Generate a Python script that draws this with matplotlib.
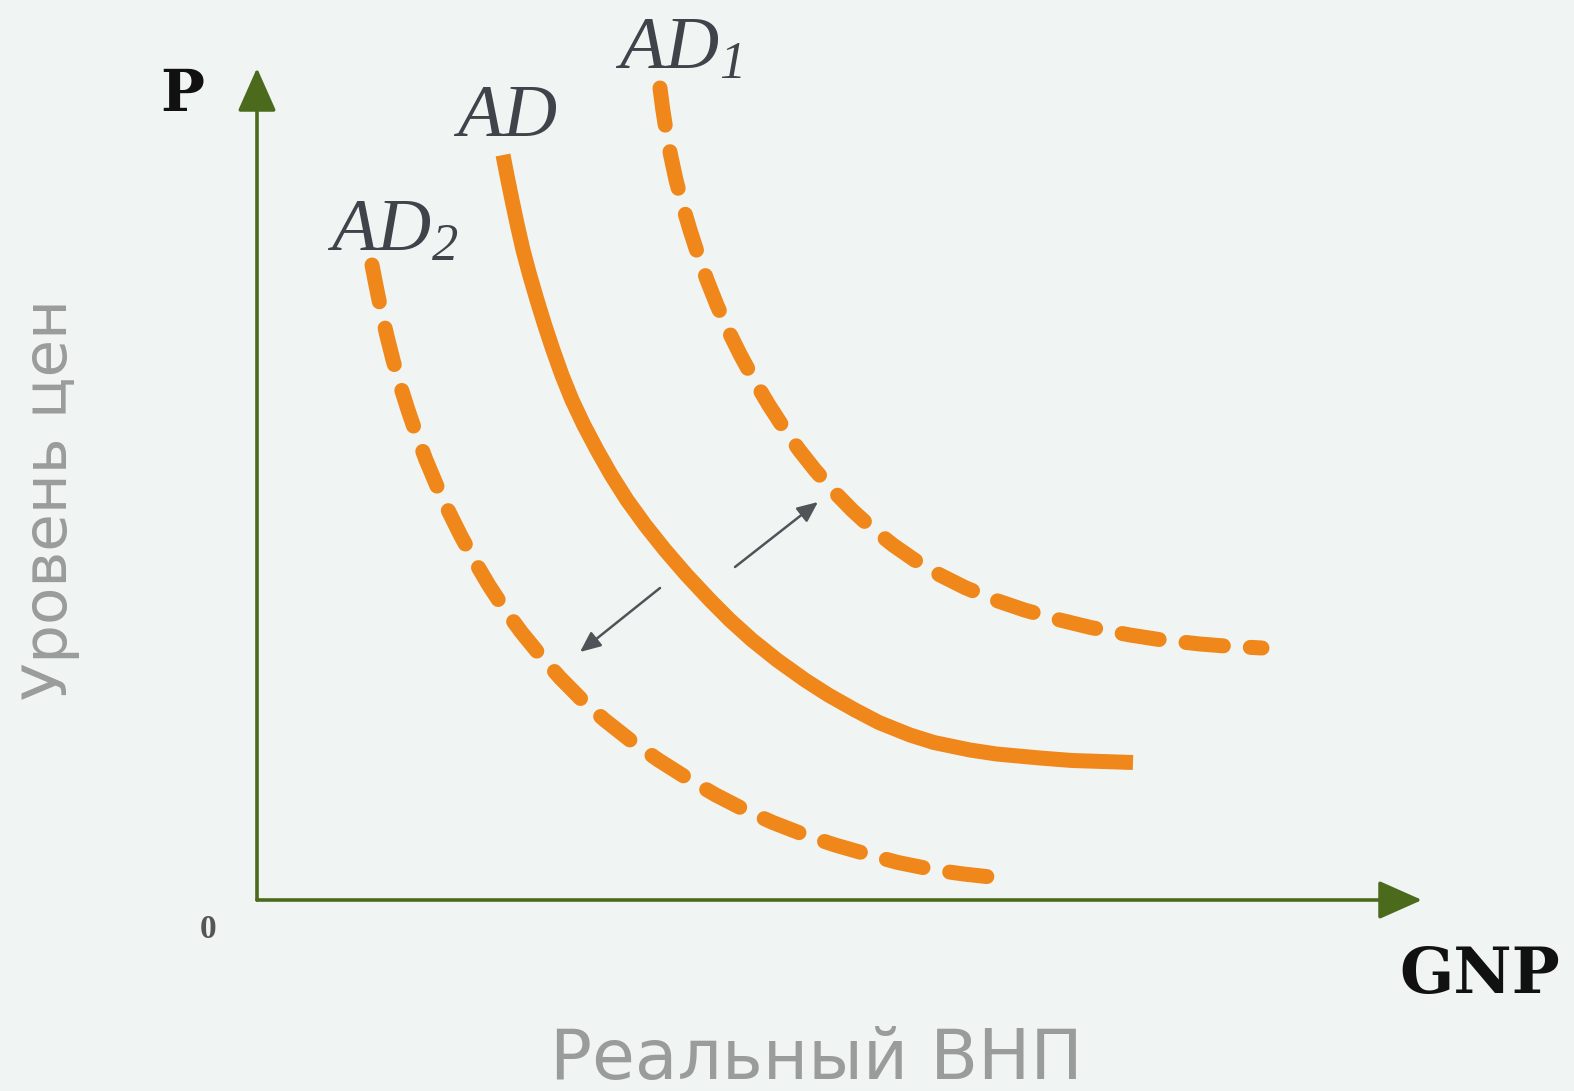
import numpy as np
import matplotlib.pyplot as plt

plt.rcParams['mathtext.fontset'] = 'custom'
plt.rcParams['mathtext.it'] = 'Liberation Serif:italic'
plt.rcParams['mathtext.rm'] = 'Liberation Serif:italic'

ad_x = [24.6, 25.04, 25.5, 26.03, 26.6, 27.27, 28.0, 28.77, 29.6, 30.49, 31.5, 32.68, 34.0,
        35.42, 37.0, 38.81, 40.8, 42.96, 45.3, 47.29, 49.5, 52.0, 54.8, 57.14, 59.8, 62.19,
        65.3, 67.69, 71.3, 73.95, 78.3, 81.5, 87.6]
ad_y = [74.5, 72.25, 70.0, 67.5, 65.0, 62.5, 60.0, 57.5, 55.0, 52.5, 50.0, 47.5, 45.0,
        42.5, 40.0, 37.5, 35.0, 32.5, 30.0, 28.0, 26.0, 24.0, 22.0, 20.5, 19.0, 17.75,
        16.5, 15.75, 15.0, 14.6, 14.2, 13.95, 13.75]

ad1_x = [40.3, 40.57, 40.9, 41.36, 41.9, 42.56, 43.3, 44.11, 45.0, 45.99, 47.1, 48.34, 49.7,
         51.18, 52.8, 54.22, 55.8, 57.55, 59.5, 61.41, 63.6, 65.76, 68.3, 70.79, 73.8, 76.74,
         80.3, 83.37, 87.3, 90.2, 94.3, 96.8, 100.5]
ad1_y = [81.2, 79.1, 77.0, 74.5, 72.0, 69.5, 67.0, 64.5, 62.0, 59.5, 57.0, 54.5, 52.0,
         49.5, 47.0, 45.0, 43.0, 41.0, 39.0, 37.25, 35.5, 34.0, 32.5, 31.25, 30.0, 29.0,
         28.0, 27.25, 26.5, 26.05, 25.6, 25.4, 25.2]

ad2_x = [11.5, 11.94, 12.4, 12.97, 13.6, 14.31, 15.1, 15.96, 16.9, 17.95, 19.1, 20.34, 21.7,
         23.17, 24.8, 26.46, 28.3, 30.28, 32.5, 34.76, 37.3, 40.14, 43.3, 45.88, 48.8, 51.58,
         54.8, 57.81, 61.3, 64.1, 67.8, 70.65, 74.3]
ad2_y = [63.5, 61.25, 59.0, 56.5, 54.0, 51.5, 49.0, 46.5, 44.0, 41.5, 39.0, 36.5, 34.0,
         31.5, 29.0, 26.75, 24.5, 22.25, 20.0, 18.0, 16.0, 14.0, 12.0, 10.5, 9.0, 7.75,
         6.5, 5.5, 4.5, 3.75, 3.0, 2.6, 2.2]

orange = '#f0871a'
green = '#4b6a1c'
bg = '#f0f5f4'

fig = plt.figure(figsize=(15.74, 10.91), dpi=100, facecolor=bg)
ax = fig.add_axes([0, 0, 1, 1])
ax.set_facecolor(bg)
ax.set_xlim(-25.7, 131.7)
ax.set_ylim(-19.1, 90.0)
ax.axis('off')

# axes with arrows
head = '-|>,head_length=0.45,head_width=0.2'
ax.annotate('', xy=(0, 83.2), xytext=(0, 0),
            arrowprops=dict(arrowstyle=head, mutation_scale=60, lw=2.6, color=green,
                            shrinkA=0, shrinkB=0))
ax.annotate('', xy=(116.5, 0), xytext=(0, 0),
            arrowprops=dict(arrowstyle=head, mutation_scale=60, lw=2.6, color=green,
                            shrinkA=0, shrinkB=0))

ax.plot(ad_x, ad_y, color=orange, lw=10.8, solid_capstyle='butt', solid_joinstyle='round')
ax.plot(ad1_x, ad1_y, color=orange, lw=10.8, dashes=(2.5, 1.8),
        dash_capstyle='round', dash_joinstyle='round')
ax.plot(ad2_x, ad2_y, color=orange, lw=10.8, dashes=(2.5, 1.8),
        dash_capstyle='round', dash_joinstyle='round')

# shift arrows
small = '-|>,head_length=0.5,head_width=0.22'
ax.annotate('', xy=(56.1, 39.8), xytext=(47.8, 33.3),
            arrowprops=dict(arrowstyle=small, mutation_scale=25, lw=1.8, color='#505458',
                            shrinkA=0, shrinkB=0))
ax.annotate('', xy=(32.3, 24.8), xytext=(40.3, 31.2),
            arrowprops=dict(arrowstyle=small, mutation_scale=25, lw=1.8, color='#505458',
                            shrinkA=0, shrinkB=0))

# curve labels
ax.text(24.8, 78.5, r'$AD$', fontsize=54, color='#3f444a', ha='center', va='center')
ax.text(42.1, 85.2, r'$AD_1$', fontsize=54, color='#3f444a', ha='center', va='center')
ax.text(13.6, 67.0, r'$AD_2$', fontsize=54, color='#3f444a', ha='center', va='center')

# axis names
ax.text(-7.5, 80.5, 'P', fontsize=42, fontweight='bold', family='DejaVu Serif',
        color='#111111', ha='center', va='center')
ax.text(122.3, -7.6, 'GNP', fontsize=46, fontweight='bold', family='DejaVu Serif',
        color='#111111', ha='center', va='center')
ax.text(-4.9, -3.0, '0', fontsize=24, fontweight='bold', family='Liberation Serif',
        color='#555555', ha='center', va='center')
ax.text(-20.7, 40.1, 'Уровень цен', fontsize=44, rotation=90, color='#9a9c9c',
        ha='center', va='center')
ax.text(55.9, -16.0, 'Реальный ВНП', fontsize=50, color='#9a9c9c',
        ha='center', va='center')

fig.savefig('out.png', dpi=100, facecolor=bg)
